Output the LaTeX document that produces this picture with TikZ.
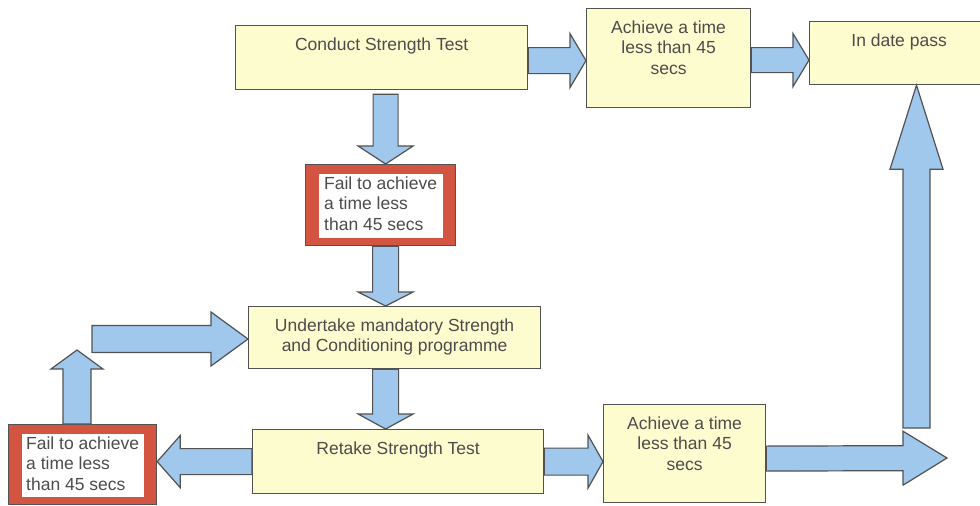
\documentclass[tikz,border=0pt]{standalone}
\usepackage{fontspec}
\setmainfont{Liberation Sans}
\usepackage{tikz}
\usetikzlibrary{calc}

\definecolor{boxyellow}{RGB}{253,252,206}
\definecolor{failred}{RGB}{212,84,66}
\definecolor{flowblue}{RGB}{160,199,236}
\definecolor{linegray}{RGB}{82,82,82}
\definecolor{txtgray}{RGB}{76,76,76}

\tikzset{
  stepbox/.style={draw=linegray, fill=boxyellow, line width=1.2pt, text=txtgray,
    font=\fontsize{17.5}{20.3}\selectfont, align=center, anchor=north west,
    inner xsep=0pt, inner ysep=0pt, text height=25pt},
  twolines/.style={text height=45.3pt},
  threelines/.style={text height=65.6pt},
  failbox/.style={stepbox, fill=failred, align=left,
    path picture={\fill[white] ([xshift=13pt,yshift=-9pt]path picture bounding box.north west)
      rectangle ([xshift=-13pt,yshift=8pt]path picture bounding box.south east);}},
  flow/.style={draw=linegray, fill=flowblue, line width=1.2pt, line join=miter}
}

% block arrow: from, to, half shaft, half head, head length
\newcommand{\blockarrow}[5]{%
  \path ($(#2)!#5!(#1)$) coordinate (ba-base);
  \draw[flow] ($(#1)!#3!90:(#2)$) -- ($(ba-base)!#3!90:(#2)$) -- ($(ba-base)!#4!90:(#2)$)
    -- (#2) -- ($(ba-base)!#4!-90:(#2)$) -- ($(ba-base)!#3!-90:(#2)$)
    -- ($(#1)!#3!-90:(#2)$) -- cycle;
}

\begin{document}
\begin{tikzpicture}[x=1pt, y=-1pt]
    \useasboundingbox (0,0) rectangle (980,506);
    \fill[white] (0,0) rectangle (980,506);
    \clip (0,0) rectangle (980,506);

    % boxes
    \node[stepbox, minimum width=292pt, text depth=39pt] (conduct) at (235,25) {Conduct Strength Test};
    \node[stepbox, threelines, minimum width=164pt, text depth=33.4pt] (achieveA) at (586,8) {Achieve a time\\less than 45\\secs};
    \node[stepbox, minimum width=179pt, text depth=38pt] (pass) at (809,21) {In date pass};
    \node[failbox, threelines, minimum width=150pt, text depth=15.4pt] (failA) at (305,164) {Fail to achieve\\a time less\\than 45 secs};
    \node[stepbox, twolines, minimum width=292pt, text depth=16.7pt] (undertake) at (248,306) {Undertake mandatory Strength\\and Conditioning programme};
    \node[stepbox, minimum width=291pt, text depth=39pt] (retake) at (252,429) {Retake Strength Test};
    \node[stepbox, threelines, minimum width=162pt, text depth=32.4pt] (achieveB) at (603,404) {Achieve a time\\less than 45\\secs};
    \node[failbox, threelines, minimum width=148pt, text depth=14.4pt] (failB) at (8,424) {Fail to achieve\\a time less\\than 45 secs};

    % top row
    \coordinate (a1s) at ([yshift=-3pt]conduct.east);
    \coordinate (a1e) at (achieveA.west |- a1s);
    \blockarrow{a1s}{a1e}{13pt}{27pt}{16pt}
    \coordinate (a2s) at ([yshift=-2pt]achieveA.east);
    \coordinate (a2e) at (pass.west |- a2s);
    \blockarrow{a2s}{a2e}{12.5pt}{26.5pt}{16pt}

    % down the middle
    \coordinate (spine) at ([xshift=5pt]failA.north);
    \coordinate (a3s) at ($(conduct.south -| spine)+(0,4)$);
    \coordinate (a3e) at (failA.north -| spine);
    \blockarrow{a3s}{a3e}{12.5pt}{27.5pt}{18pt}
    \coordinate (a4s) at (failA.south -| spine);
    \coordinate (a4e) at (undertake.north -| spine);
    \blockarrow{a4s}{a4e}{13pt}{27.5pt}{14pt}
    \coordinate (a5s) at (undertake.south -| spine);
    \coordinate (a5e) at (retake.north -| spine);
    \blockarrow{a5s}{a5e}{13pt}{27.5pt}{15pt}

    % fail again, loop back
    \coordinate (a6e) at (failB.east |- retake.west);
    \blockarrow{retake.west}{a6e}{13pt}{26pt}{23pt}
    \coordinate (loopup) at (77,350);
    \coordinate (a7s) at (failB.north -| loopup);
    \blockarrow{a7s}{loopup}{14pt}{26pt}{19pt}
    \coordinate (loopin) at (92,339);
    \coordinate (a8e) at (undertake.west |- loopin);
    \blockarrow{loopin}{a8e}{13.5pt}{27pt}{37pt}

    % pass on retake
    \coordinate (a9e) at (achieveB.west |- retake.east);
    \blockarrow{retake.east}{a9e}{13.5pt}{26.5pt}{15pt}
    \coordinate (a10s) at ([yshift=-5pt]achieveB.east);
    \coordinate (turn) at (947,458);
    \blockarrow{a10s}{turn}{12.5pt}{27pt}{44pt}
    \coordinate (rise) at (916.5,428);
    \coordinate (a11e) at (pass.south -| rise);
    \blockarrow{rise}{a11e}{13.5pt}{26.5pt}{84pt}
\end{tikzpicture}
\end{document}
